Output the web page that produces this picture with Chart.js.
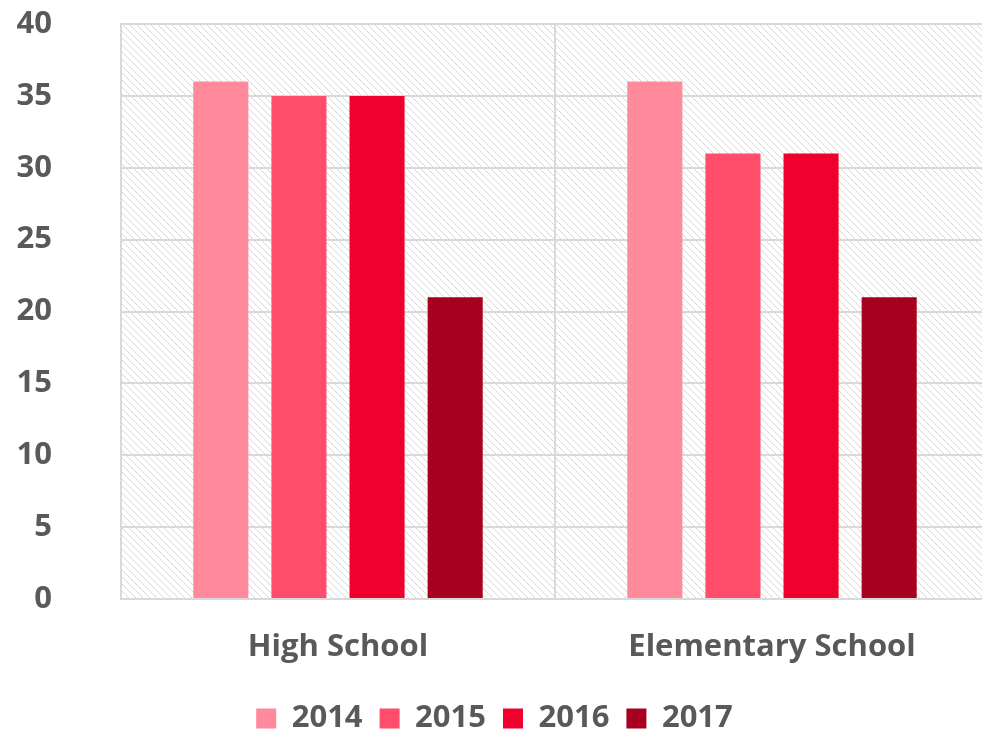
<!DOCTYPE html>
<html>
<head>
<meta charset="utf-8">
<script src="https://cdn.jsdelivr.net/npm/chart.js@4"></script>
<style>
  html, body { margin: 0; padding: 0; background: #fff; overflow: hidden; }
  #wrap { width: 1000px; height: 731px; }
</style>
</head>
<body>
<div id="wrap"><canvas id="schoolChart" width="1000" height="731"></canvas></div>
<script>
// data
const categories = ["High School", "Elementary School"];
const years = ["2014", "2015", "2016", "2017"];
const values2014 = [36, 36];
const values2015 = [35, 31];
const values2016 = [35, 31];
const values2017 = [21, 21];
const yTicks = [0, 5, 10, 15, 20, 25, 30, 35, 40];

const colors = ["#FF8A9B", "#FF4D6B", "#EF002D", "#A8001F"];
const seriesValues = [values2014, values2015, values2016, values2017];

// diagonal hatch behind the bars
function makeHatch(ctx) {
    const c = document.createElement("canvas");
    c.width = 7;
    c.height = 7;
    const g = c.getContext("2d");
    g.fillStyle = "#d6d6d6";
    for (let i = 0; i < 7; i++) g.fillRect(i, i, 1, 1);
    return ctx.createPattern(c, "repeat");
}

const hatchBackground = {
    id: "hatchBackground",
    beforeDraw(chart) {
        const { ctx, chartArea } = chart;
        ctx.save();
        ctx.fillStyle = makeHatch(ctx);
        ctx.fillRect(chartArea.left, chartArea.top, chartArea.right - chartArea.left, chartArea.bottom - chartArea.top);
        ctx.restore();
    }
};

const font = { family: "'Open Sans', sans-serif", weight: "bold", size: 31 };

new Chart(document.getElementById("schoolChart").getContext("2d"), {
    type: "bar",
    data: {
        labels: categories,
        datasets: years.map((y, i) => ({
            label: y,
            data: seriesValues[i],
            backgroundColor: colors[i],
            categoryPercentage: 0.72,
            barPercentage: 0.705,
        })),
    },
    options: {
        responsive: false,
        animation: false,
        layout: { padding: { top: 24, left: 0, right: 11, bottom: -13 } },
        plugins: {
            tooltip: { enabled: false },
            legend: {
                position: "bottom",
                labels: {
                    color: "#595959",
                    font: font,
                    boxWidth: 20,
                    boxHeight: 20,
                    padding: 17,
                },
            },
        },
        scales: {
            x: {
                afterFit(scale) { scale.height = 87; },
                grid: { color: "#d9d9d9", lineWidth: 2, drawTicks: false, offset: true },
                border: { color: "#d9d9d9", width: 2 },
                ticks: { color: "#595959", font: font, padding: 30 },
            },
            y: {
                min: 0,
                max: 40,
                afterBuildTicks(scale) {
                    scale.ticks = yTicks.map(v => ({ value: v }));
                },
                // fixed width; drop the extra top/bottom room the tick padding adds
                afterFit(scale) {
                    scale.width = 121;
                    scale.paddingTop = 0;
                    scale.paddingBottom = 0;
                },
                grid: { color: "#d9d9d9", lineWidth: 2, drawTicks: false },
                border: { color: "#d9d9d9", width: 2 },
                ticks: { color: "#595959", font: font, padding: 69 },
            },
        },
    },
    plugins: [hatchBackground],
});
</script>
</body>
</html>
